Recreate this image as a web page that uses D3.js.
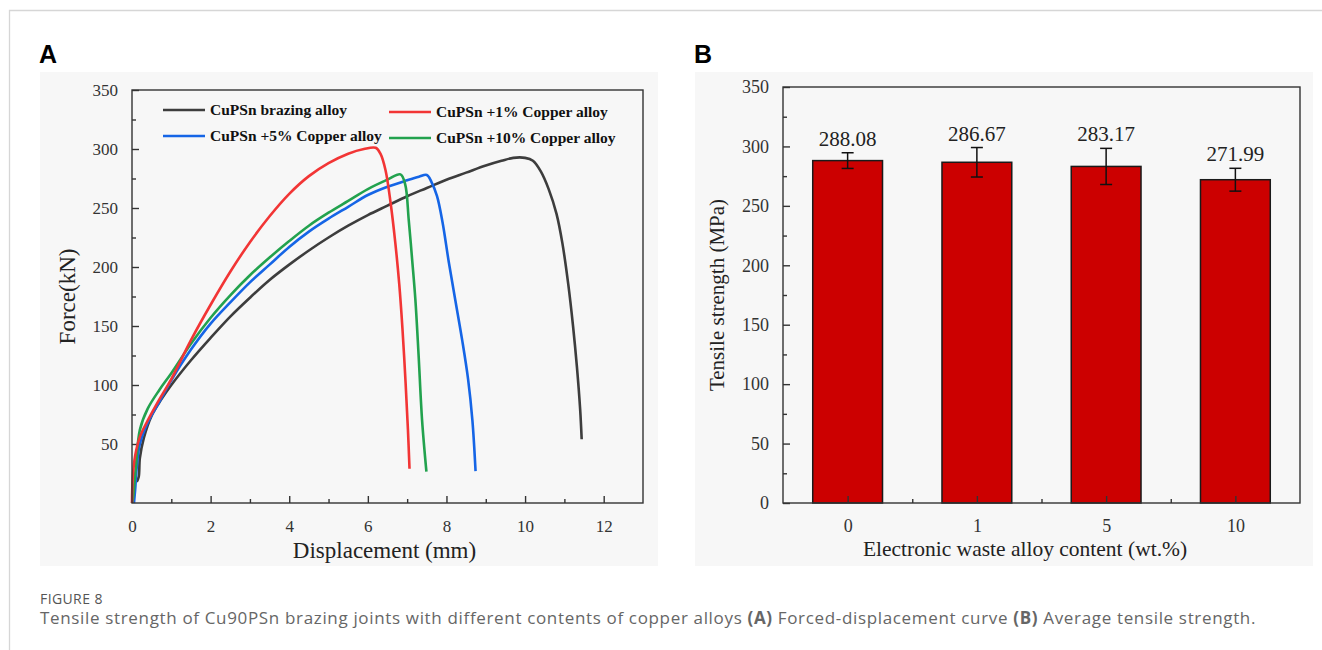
<!DOCTYPE html>
<html>
<head>
<meta charset="utf-8">
<script src="https://cdn.jsdelivr.net/npm/d3@7"></script>
<style>
  body { margin: 0; background: #fff; }
  svg { display: block; }
</style>
</head>
<body>
<svg id="fig" width="1322" height="650"></svg>
<script>
// ---- data: panel A, force-displacement curves (displacement mm, force kN)
let blackCurve = [
  [0.12, 18], [0.17, 22], [0.2, 38], [0.3, 55], [0.5, 74], [0.75, 88], [1, 100],
  [1.5, 121], [2, 140], [2.5, 158], [3, 174], [3.5, 189], [4, 202], [4.5, 214],
  [5, 225], [5.5, 235], [6, 244], [6.5, 252], [7, 260], [7.5, 267], [8, 274],
  [8.5, 280], [9, 286], [9.4, 290], [9.7, 292.5], [10, 292.5], [10.2, 290],
  [10.4, 281], [10.6, 266], [10.8, 245], [10.95, 220], [11.1, 185], [11.22, 150],
  [11.32, 115], [11.4, 80], [11.44, 54]
];
let redCurve = [
  [0, 0], [0.02, 22], [0.08, 40], [0.2, 56], [0.37, 68], [0.7, 88], [1, 105],
  [1.5, 138], [2, 168], [2.5, 196], [3, 221], [3.5, 243], [4, 262], [4.5, 277],
  [5, 288], [5.5, 296], [5.9, 300], [6.2, 301], [6.32, 296], [6.45, 282],
  [6.58, 254], [6.7, 220], [6.8, 185], [6.88, 148], [6.96, 102], [7.02, 62],
  [7.06, 29]
];
let blueCurve = [
  [0.05, 0], [0.08, 11], [0.12, 30], [0.2, 50], [0.4, 68], [0.7, 86], [1, 104],
  [1.5, 130], [2, 152], [2.5, 170], [3, 187], [3.5, 202], [4, 217], [4.5, 230],
  [5, 241], [5.5, 251], [6, 261], [6.5, 268], [7, 273.5], [7.3, 276.5],
  [7.5, 278], [7.62, 272], [7.76, 260], [7.9, 238], [8.06, 204], [8.23, 171],
  [8.4, 138], [8.55, 105], [8.66, 70], [8.74, 27]
];
let greenCurve = [
  [0, 0], [0.03, 5], [0.07, 20], [0.1, 31], [0.2, 62], [0.4, 80], [0.7, 96],
  [1, 110], [1.5, 135], [2, 157], [2.5, 176], [3, 193], [3.5, 208], [4, 222],
  [4.5, 235], [5, 246], [5.5, 256], [6, 266], [6.5, 274], [6.83, 278.5],
  [6.95, 270], [7.04, 240], [7.13, 205], [7.21, 172], [7.29, 126], [7.38, 70],
  [7.49, 26.5]
];
let curveNames = ["CuPSn brazing alloy", "CuPSn +1% Copper alloy",
                  "CuPSn +5% Copper alloy", "CuPSn +10% Copper alloy"];
let curveColors = ["#3d3d3d", "#f23535", "#1565e6", "#22a24e"];

// ---- data: panel B, average tensile strength
let contents = ["0", "1", "5", "10"];
let strength = [288.08, 286.67, 283.17, 271.99];
let strengthErr = [6.6, 12.4, 15.2, 9.6];

let svg = d3.select("#fig");
let serif = "'Liberation Serif', 'Times New Roman', serif";

// outer card border
svg.append("path")
  .attr("d", "M9.5,650 V10.5 H1322")
  .attr("fill", "none")
  .attr("stroke", "#d6d6d6")
  .attr("stroke-width", 1.3);

// panel letters
svg.append("text").attr("x", 39).attr("y", 63).text("A")
  .attr("font-family", "'Liberation Sans', Arial, sans-serif")
  .attr("font-weight", "bold").attr("font-size", 25);
svg.append("text").attr("x", 694).attr("y", 63).text("B")
  .attr("font-family", "'Liberation Sans', Arial, sans-serif")
  .attr("font-weight", "bold").attr("font-size", 25);

// image backgrounds
svg.append("rect").attr("x", 40).attr("y", 72).attr("width", 618).attr("height", 494)
  .attr("fill", "#f7f7f7");
svg.append("rect").attr("x", 695).attr("y", 72).attr("width", 618).attr("height", 494)
  .attr("fill", "#f7f7f7");

// inward ticks with optional minor ticks
function styleAxis(g, fontSize) {
  g.select(".domain").remove();
  g.selectAll("line").attr("stroke", "#333").attr("stroke-width", 1.4);
  g.selectAll("text")
    .attr("font-family", serif)
    .attr("font-size", fontSize)
    .attr("fill", "#333");
}

function frame(g, w, h) {
  g.append("rect")
    .attr("width", w).attr("height", h)
    .attr("fill", "none")
    .attr("stroke", "#333")
    .attr("stroke-width", 1.4);
}

////////////////////////////////////////////////////////////////////////
// Panel A

let aLeft = 132, aTop = 90, aW = 511, aH = 413;
let xA = d3.scaleLinear().domain([0, 13]).range([0, aW]);
let yA = d3.scaleLinear().domain([0, 350]).range([aH, 0]);
let gA = svg.append("g").attr("transform", "translate(" + aLeft + "," + aTop + ")");

gA.append("g").attr("transform", "translate(0," + aH + ")")
  .call(d3.axisBottom(xA).tickValues([0, 2, 4, 6, 8, 10, 12])
    .tickSizeInner(-7).tickSizeOuter(0).tickPadding(17))
  .call(styleAxis, 17);
gA.append("g").attr("transform", "translate(0," + aH + ")")
  .call(d3.axisBottom(xA).tickValues([1, 3, 5, 7, 9, 11])
    .tickSizeInner(-4).tickSizeOuter(0).tickFormat(""))
  .call(styleAxis, 17);
gA.append("g")
  .call(d3.axisLeft(yA).tickValues([50, 100, 150, 200, 250, 300, 350])
    .tickSizeInner(-7).tickSizeOuter(0).tickPadding(14))
  .call(styleAxis, 17);
gA.append("g")
  .call(d3.axisLeft(yA).tickValues(d3.range(25, 350, 50))
    .tickSizeInner(-4).tickSizeOuter(0).tickFormat(""))
  .call(styleAxis, 17);

let lineA = d3.line()
  .x(d => xA(d[0]))
  .y(d => yA(d[1]))
  .curve(d3.curveCatmullRom.alpha(0.5));

// draw order: black, blue, green, red
[[blackCurve, 0], [blueCurve, 2], [greenCurve, 3], [redCurve, 1]].forEach(function(c) {
  gA.append("path")
    .attr("d", lineA(c[0]))
    .attr("fill", "none")
    .attr("stroke", curveColors[c[1]])
    .attr("stroke-width", 2.6)
    .attr("stroke-linejoin", "round");
});

frame(gA, aW, aH);

// legend
let legendPos = [[31, 20], [257, 22], [31, 46], [257, 48]];
curveNames.forEach(function(name, i) {
  let lg = gA.append("g").attr("transform",
    "translate(" + legendPos[i][0] + "," + legendPos[i][1] + ")");
  lg.append("line").attr("x1", 0).attr("x2", 42)
    .attr("stroke", curveColors[i]).attr("stroke-width", 2.6);
  lg.append("text").attr("x", 47).attr("y", 5).text(name)
    .attr("font-family", serif).attr("font-weight", "bold")
    .attr("font-size", 15.5).attr("fill", "#111");
});

svg.append("text")
  .attr("transform", "translate(75," + (aTop + aH / 2) + ") rotate(-90)")
  .attr("text-anchor", "middle")
  .attr("font-family", serif).attr("font-size", 23).attr("fill", "#222")
  .text("Force(kN)");
svg.append("text")
  .attr("x", aLeft + aW / 2 - 3).attr("y", 558)
  .attr("text-anchor", "middle")
  .attr("font-family", serif).attr("font-size", 23).attr("fill", "#222")
  .text("Displacement (mm)");

////////////////////////////////////////////////////////////////////////
// Panel B

let bLeft = 783, bTop = 87, bW = 517, bH = 416;
let xB = d3.scaleBand().domain(contents).range([0, bW]).paddingInner(0.46).paddingOuter(0.23);
let yB = d3.scaleLinear().domain([0, 350]).range([bH, 0]);
let gB = svg.append("g").attr("transform", "translate(" + bLeft + "," + bTop + ")");

gB.selectAll("rect.bar")
  .data(strength)
  .enter()
  .append("rect")
  .attr("class", "bar")
  .attr("x", (d, i) => xB(contents[i]))
  .attr("y", d => yB(d))
  .attr("width", xB.bandwidth())
  .attr("height", d => bH - yB(d))
  .attr("fill", "#cc0000")
  .attr("stroke", "#1a1a1a")
  .attr("stroke-width", 1.5);

// error bars
strength.forEach(function(v, i) {
  let cx = xB(contents[i]) + xB.bandwidth() / 2;
  let top = yB(v + strengthErr[i]), bot = yB(v - strengthErr[i]);
  let eg = gB.append("g").attr("stroke", "#111").attr("stroke-width", 1.5);
  eg.append("line").attr("x1", cx).attr("x2", cx).attr("y1", top).attr("y2", bot);
  eg.append("line").attr("x1", cx - 6).attr("x2", cx + 6).attr("y1", top).attr("y2", top);
  eg.append("line").attr("x1", cx - 6).attr("x2", cx + 6).attr("y1", bot).attr("y2", bot);
  gB.append("text")
    .attr("x", cx).attr("y", top - 7)
    .attr("text-anchor", "middle")
    .attr("font-family", serif).attr("font-size", 21).attr("fill", "#222")
    .text(v.toFixed(2));
});

let xCenters = d3.scaleLinear().domain([0, contents.length]).range([0, bW]);
gB.append("g").attr("transform", "translate(0," + bH + ")")
  .call(d3.axisBottom(xCenters).tickValues([0.5, 1.5, 2.5, 3.5])
    .tickFormat((d, i) => contents[i])
    .tickSizeInner(-7).tickSizeOuter(0).tickPadding(16))
  .call(styleAxis, 18);
gB.append("g").attr("transform", "translate(0," + bH + ")")
  .call(d3.axisBottom(xCenters).tickValues([1, 2, 3])
    .tickSizeInner(-4).tickSizeOuter(0).tickFormat(""))
  .call(styleAxis, 18);
gB.append("g")
  .call(d3.axisLeft(yB).tickValues(d3.range(0, 351, 50))
    .tickSizeInner(-7).tickSizeOuter(0).tickPadding(14))
  .call(styleAxis, 18);
gB.append("g")
  .call(d3.axisLeft(yB).tickValues(d3.range(25, 350, 50))
    .tickSizeInner(-4).tickSizeOuter(0).tickFormat(""))
  .call(styleAxis, 18);

frame(gB, bW, bH);

svg.append("text")
  .attr("transform", "translate(724," + (bTop + bH / 2) + ") rotate(-90)")
  .attr("text-anchor", "middle")
  .attr("font-family", serif).attr("font-size", 21).attr("fill", "#222")
  .text("Tensile strength (MPa)");
svg.append("text")
  .attr("x", 1025).attr("y", 556)
  .attr("text-anchor", "middle")
  .attr("font-family", serif).attr("font-size", 21.5).attr("fill", "#222")
  .text("Electronic waste alloy content (wt.%)");

////////////////////////////////////////////////////////////////////////
// caption

let sans = "'Open Sans', 'Noto Sans', sans-serif";
svg.append("text").attr("x", 40).attr("y", 604)
  .attr("font-family", sans).attr("font-size", 14).attr("fill", "#555")
  .attr("letter-spacing", 0.4)
  .text("FIGURE 8");
let cap = svg.append("text").attr("x", 40).attr("y", 624)
  .attr("font-family", sans).attr("font-size", 17).attr("fill", "#666")
  .attr("letter-spacing", 0.66);
cap.append("tspan").text("Tensile strength of Cu90PSn brazing joints with different contents of copper alloys ");
cap.append("tspan").attr("font-weight", "bold").text("(A)");
cap.append("tspan").text(" Forced-displacement curve ");
cap.append("tspan").attr("font-weight", "bold").text("(B)");
cap.append("tspan").text(" Average tensile strength.");
</script>
</body>
</html>
